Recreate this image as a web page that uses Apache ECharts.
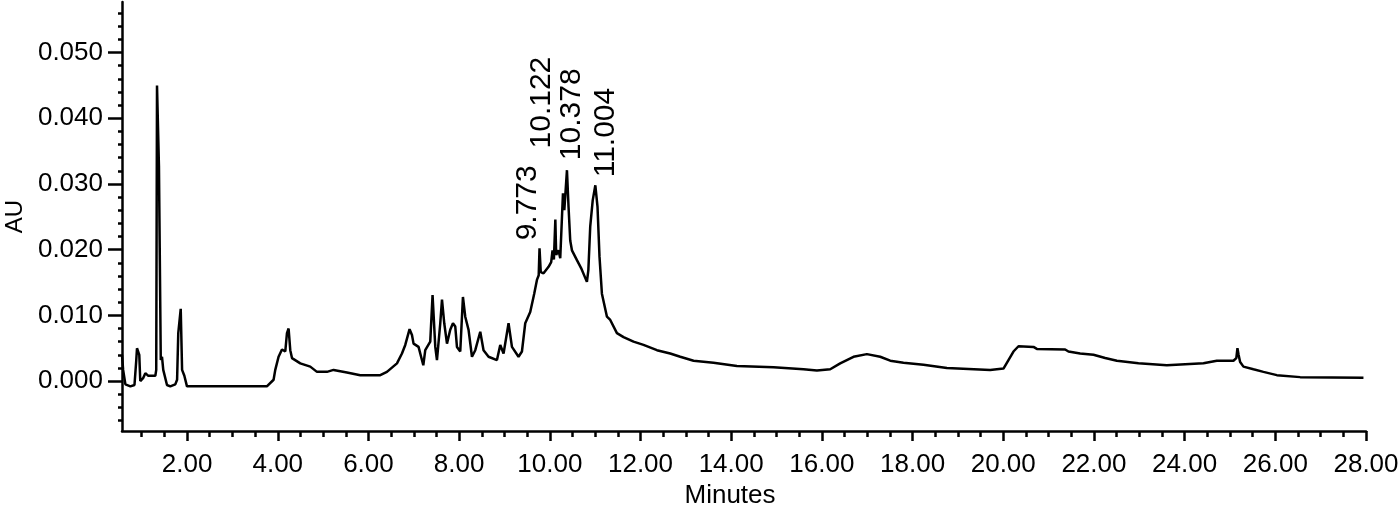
<!DOCTYPE html>
<html>
<head>
<meta charset="utf-8">
<script src="https://cdn.jsdelivr.net/npm/echarts@6/dist/echarts.min.js"></script>
<style>html,body{margin:0;padding:0;background:#fff;}#c{width:1400px;height:511px;}</style>
</head>
<body>
<div id="c"></div>
<script>
// Retention time (minutes)
var times = [0.565,0.59,0.64,0.75,0.84,0.88,0.896,0.913,0.946,0.968,1.035,1.08,1.145,1.30,1.32,1.337,1.365,1.38,1.41,1.42,1.447,1.475,1.557,1.63,1.74,1.78,1.806,1.84,1.86,1.88,1.89,1.94,1.998,3.76,3.798,3.908,3.945,4.018,4.093,4.166,4.203,4.239,4.276,4.314,4.497,4.717,4.865,5.085,5.231,5.526,5.82,6.261,6.408,6.629,6.739,6.812,6.907,6.96,6.995,7.105,7.18,7.21,7.253,7.363,7.414,7.474,7.511,7.584,7.622,7.672,7.732,7.804,7.864,7.915,7.952,8.025,8.084,8.135,8.208,8.283,8.356,8.466,8.538,8.649,8.834,8.907,8.98,9.09,9.165,9.31,9.385,9.458,9.568,9.656,9.716,9.755,9.773,9.80,9.862,9.972,10.03,10.06,10.09,10.122,10.14,10.192,10.23,10.29,10.32,10.378,10.413,10.45,10.488,10.598,10.69,10.818,10.85,10.891,10.946,11.004,11.052,11.096,11.149,11.26,11.333,11.48,11.626,11.846,12.066,12.362,12.655,12.876,13.17,13.61,14.126,14.933,15.595,15.89,16.184,16.404,16.697,16.993,17.286,17.507,17.8,18.241,18.757,19.711,20.005,20.115,20.225,20.336,20.667,20.741,21.365,21.438,21.696,21.99,22.248,22.506,22.982,23.608,24.415,24.71,25.076,25.14,25.165,25.19,25.224,25.297,25.517,25.738,26.033,26.548,27.944];
// Absorbance (AU)
var absorbance = [0.0040,0.0017,-0.0005,-0.0008,-0.0006,0.0032,0.0050,0.0047,0.0040,0.0000,0.0005,0.0012,0.0008,0.0008,0.0017,0.0450,0.0450,0.0327,0.0327,0.0032,0.0037,0.0017,-0.0006,-0.0008,-0.0005,0.0002,0.0073,0.0073,0.0110,0.0110,0.0017,0.0008,-0.0008,-0.0008,-0.0006,0.0002,0.0017,0.0037,0.0048,0.0045,0.0073,0.0080,0.0047,0.0035,0.0027,0.0022,0.0014,0.0014,0.0017,0.0013,0.0009,0.0009,0.0014,0.0027,0.0042,0.0055,0.0079,0.0070,0.0057,0.0052,0.0032,0.0024,0.0047,0.0060,0.0131,0.0052,0.0032,0.0088,0.0124,0.0088,0.0057,0.0078,0.0088,0.0083,0.0052,0.0045,0.0128,0.0098,0.0078,0.0037,0.0047,0.0075,0.0047,0.0037,0.0032,0.0055,0.0042,0.0088,0.0052,0.0037,0.0045,0.0088,0.0105,0.0133,0.0154,0.0161,0.0202,0.0166,0.0164,0.0174,0.0181,0.0199,0.0185,0.0246,0.0192,0.0199,0.0187,0.0286,0.0260,0.0321,0.0265,0.0214,0.0199,0.0184,0.0172,0.0151,0.0169,0.0235,0.0275,0.0298,0.0265,0.0189,0.0133,0.0098,0.0093,0.0073,0.0067,0.0060,0.0055,0.0047,0.0042,0.0037,0.0031,0.0028,0.0023,0.0021,0.0018,0.0016,0.0018,0.0027,0.0037,0.0041,0.0037,0.0031,0.0028,0.0025,0.0020,0.0017,0.0019,0.0032,0.0045,0.0053,0.0052,0.0049,0.0048,0.0045,0.0042,0.0040,0.0035,0.0031,0.0027,0.0024,0.0027,0.0031,0.0031,0.0035,0.0050,0.0040,0.0029,0.0022,0.0018,0.0014,0.0009,0.0006,0.0005];
// Labelled peaks
var peakTimes = [9.773, 10.122, 10.378, 11.004];
var peakHeights = [0.0202, 0.0246, 0.0321, 0.0298];
// Tick labels
var xTickLabels = [2,4,6,8,10,12,14,16,18,20,22,24,26,28];
var xMinorTicks = [1,1.5,2.5,3,3.5,4.5,5,5.5,6.5,7,7.5,8.5,9,9.5,10.5,11,11.5,12.5,13,13.5,14.5,15,15.5,16.5,17,17.5,18.5,19,19.5,20.5,21,21.5,22.5,23,23.5,24.5,25,25.5,26.5,27,27.5];
var yTickLabels = [0,0.01,0.02,0.03,0.04,0.05];
var yMinorTicks = [-0.006,-0.004,-0.002,0.002,0.004,0.006,0.008,0.012,0.014,0.016,0.018,0.022,0.024,0.026,0.028,0.032,0.034,0.036,0.038,0.042,0.044,0.046,0.048,0.052,0.054,0.056];

var X_MIN = 0.565, X_MAX = 28, Y_MIN = -0.0076, Y_MAX = 0.0577;
var FONT = "'Liberation Sans', Arial, sans-serif";

var lineData = times.map(function (t, i) { return [t, absorbance[i]]; });
// label offsets are given in the rotated label frame: [up, right]
var labelOffsets = [[3, -12], [66, -14], [5, 5], [3, 10]];
var peakData = peakTimes.map(function (t, i) {
  return { value: [t, peakHeights[i]], label: { offset: labelOffsets[i] } };
});

var chart = echarts.init(document.getElementById('c'), null, { renderer: 'canvas' });
chart.setOption({
  animation: false,
  backgroundColor: '#fff',
  grid: { left: 122, right: 34, top: 2, bottom: 80, containLabel: false, outerBoundsMode: 'none' },
  xAxis: [{
    type: 'value', min: X_MIN, max: X_MAX,
    name: 'Minutes', nameLocation: 'middle', nameGap: 52,
    nameTextStyle: { color: '#000', fontSize: 26, fontFamily: FONT, padding: [0, 28, 0, 0] },
    axisLine: { show: true, onZero: false, lineStyle: { color: '#000', width: 2.5 } },
    axisTick: { show: true, customValues: xTickLabels, length: 10, lineStyle: { color: '#000', width: 2.5 } },
    axisLabel: { customValues: xTickLabels, margin: 21, color: '#000', fontSize: 26, fontFamily: FONT,
      formatter: function (v) { return v.toFixed(2); } },
    splitLine: { show: false }
  }, {
    type: 'value', min: X_MIN, max: X_MAX, position: 'bottom',
    axisLine: { show: false, onZero: false },
    axisTick: { show: true, customValues: xMinorTicks, length: 6, lineStyle: { color: '#000', width: 2.5 } },
    axisLabel: { show: false },
    splitLine: { show: false }
  }],
  yAxis: [{
    type: 'value', min: Y_MIN, max: Y_MAX,
    name: 'AU', nameLocation: 'middle', nameGap: 94, nameRotate: 90,
    nameTextStyle: { color: '#000', fontSize: 24, fontFamily: FONT },
    axisLine: { show: true, onZero: false, lineStyle: { color: '#000', width: 2.5 } },
    axisTick: { show: true, customValues: yTickLabels, length: 14, lineStyle: { color: '#000', width: 2.5 } },
    axisLabel: { customValues: yTickLabels, margin: 19, color: '#000', fontSize: 26, fontFamily: FONT,
      formatter: function (v) { return v.toFixed(3); } },
    splitLine: { show: false }
  }, {
    type: 'value', min: Y_MIN, max: Y_MAX, position: 'left',
    axisLine: { show: false, onZero: false },
    axisTick: { show: true, customValues: yMinorTicks, length: 4, lineStyle: { color: '#000', width: 2.5 } },
    axisLabel: { show: false },
    splitLine: { show: false }
  }],
  series: [{
    type: 'line', data: lineData, xAxisIndex: 0, yAxisIndex: 0,
    showSymbol: false, symbol: 'none', smooth: false, sampling: null,
    lineStyle: { color: '#000', width: 2.5 },
    silent: true
  }, {
    type: 'scatter', data: peakData, xAxisIndex: 0, yAxisIndex: 0,
    symbolSize: 0,
    itemStyle: { opacity: 1, color: '#000' },
    label: {
      show: true, position: 'top', distance: 5, rotate: 90,
      align: 'left', verticalAlign: 'middle',
      color: '#000', opacity: 1, fontSize: 30, fontFamily: FONT,
      formatter: function (p) { return p.value[0].toFixed(3); }
    },
    silent: true
  }, {
    type: 'line', data: [], xAxisIndex: 1, yAxisIndex: 1, showSymbol: false
  }]
});
</script>
</body>
</html>
